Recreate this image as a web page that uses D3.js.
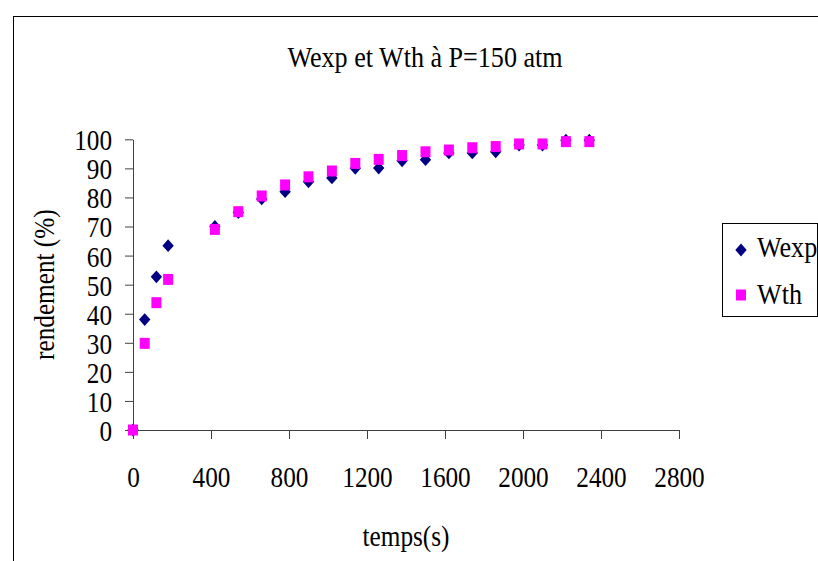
<!DOCTYPE html>
<html>
<head>
<meta charset="utf-8">
<script src="https://cdn.jsdelivr.net/npm/d3@7"></script>
<style>
  body { margin: 0; background: #fff; }
  svg text { font-family: "Liberation Serif", Tinos, "Times New Roman", "DejaVu Serif", serif !important; fill: #000; }
</style>
</head>
<body>
<svg id="chart" width="818" height="561"></svg>
<script>
// temps (s) and rendement (%)
const temps = [0, 60, 120, 180, 420, 540, 660, 780, 900, 1020, 1140, 1260, 1380, 1500, 1620, 1740, 1860, 1980, 2100, 2220, 2340];
const wexp  = [0, 38, 52.7, 63.4, 70, 74.8, 79.5, 82, 85.4, 86.7, 90, 90.1, 92.6, 93, 95.3, 95.3, 95.7, 98, 98, 99.7, 99.7];
const wth   = [0, 29.8, 43.8, 51.8, 69, 75.1, 80.5, 84.3, 87.1, 89.1, 91.7, 93.1, 94.4, 95.7, 96.3, 97.1, 97.5, 98.4, 98.4, 99.2, 99.2];
const xTicks = [0, 400, 800, 1200, 1600, 2000, 2400, 2800];
const yTicks = [0, 10, 20, 30, 40, 50, 60, 70, 80, 90, 100];
const seriesNames = ["Wexp", "Wth"];

const width = 818;
const height = 561;
const sx = 0.87;          // narrow serif look
const fontSize = 29;
const serif = "'Liberation Serif', Tinos, 'Times New Roman', 'DejaVu Serif', serif";
const axisColor = "#404040";
const expColor = "#000080";
const thColor = "#ff00ff";

const svg = d3.select("#chart");
svg.append("rect").attr("width", width).attr("height", height).attr("fill", "#fff");

// outer chart border (runs off right / bottom)
svg.append("rect")
  .attr("x", 13.5).attr("y", 16.5)
  .attr("width", 900).attr("height", 700)
  .attr("fill", "none").attr("stroke", "#000").attr("stroke-width", 1);

const x = d3.scaleLinear().domain([0, 2800]).range([133, 679]);
const y = d3.scaleLinear().domain([0, 100]).range([430, 139.3]);

const diamond = (w, h) => `M0,${-h}L${w},0L0,${h}L${-w},0Z`;

// === Axes ===
const xAxis = svg.append("g")
  .attr("transform", `translate(0,${y(0)})`)
  .call(d3.axisBottom(x).tickValues(xTicks).tickSize(9).tickSizeOuter(0).tickPadding(27).tickFormat(d3.format("d")));

const yAxis = svg.append("g")
  .attr("transform", `translate(${x(0)},0)`)
  .call(d3.axisLeft(y).tickValues(yTicks).tickSize(8).tickSizeOuter(0).tickFormat(d3.format("d")));

[xAxis, yAxis].forEach(g => {
  g.attr("font-family", null).attr("font-size", null);
  g.select(".domain").attr("stroke", axisColor);
  g.selectAll(".tick line").attr("stroke", axisColor);
  g.selectAll(".tick text")
    .style("font-family", serif)
    .style("font-size", fontSize + "px")
    .attr("fill", "#000");
});

xAxis.selectAll(".tick text").attr("transform", `scale(${sx},1)`);
yAxis.selectAll(".tick text")
  .attr("x", -21 / sx)
  .attr("dy", "0.36em")
  .attr("transform", `scale(${sx},1)`);

// === Titles ===
const label = (txt, tx, ty, rot, size) => {
  svg.append("g")
    .attr("transform", `translate(${tx},${ty}) rotate(${rot}) scale(${sx},1)`)
    .append("text")
    .attr("text-anchor", "middle")
    .style("font-family", serif)
    .style("font-size", size + "px")
    .text(txt);
};
label("Wexp et Wth à P=150 atm", 425, 67, 0, 30);
label("temps(s)", (x(0) + x(2800)) / 2, 546, 0, fontSize);
label("rendement (%)", 54, (y(0) + y(100)) / 2, -90, fontSize);

// === Points ===
const pts = temps.map((t, i) => ({ t, exp: wexp[i], th: wth[i] }));

svg.append("g")
  .selectAll("path")
  .data(pts)
  .join("path")
  .attr("transform", d => `translate(${x(d.t)},${y(d.exp)})`)
  .attr("d", diamond(5.7, 6.4))
  .attr("fill", expColor);

svg.append("g")
  .selectAll("rect")
  .data(pts)
  .join("rect")
  .attr("x", d => x(d.t) - 5)
  .attr("y", d => y(d.th) - 5.5)
  .attr("width", 10)
  .attr("height", 11)
  .attr("fill", thColor);

// === Legend ===
const legend = svg.append("g").attr("transform", "translate(722,223)");
legend.append("rect")
  .attr("x", 0.5).attr("y", 0.5)
  .attr("width", 95).attr("height", 93)
  .attr("fill", "#fff").attr("stroke", "#000");

legend.append("path")
  .attr("transform", "translate(19,27)")
  .attr("d", diamond(5.7, 6.4))
  .attr("fill", expColor);
legend.append("rect")
  .attr("x", 14).attr("y", 66.5)
  .attr("width", 10).attr("height", 11)
  .attr("fill", thColor);

seriesNames.forEach((name, i) => {
  legend.append("g")
    .attr("transform", `translate(35,${34 + i * 46.5}) scale(${sx},1)`)
    .append("text")
    .style("font-family", serif)
    .style("font-size", "30px")
    .text(name);
});
</script>
</body>
</html>
